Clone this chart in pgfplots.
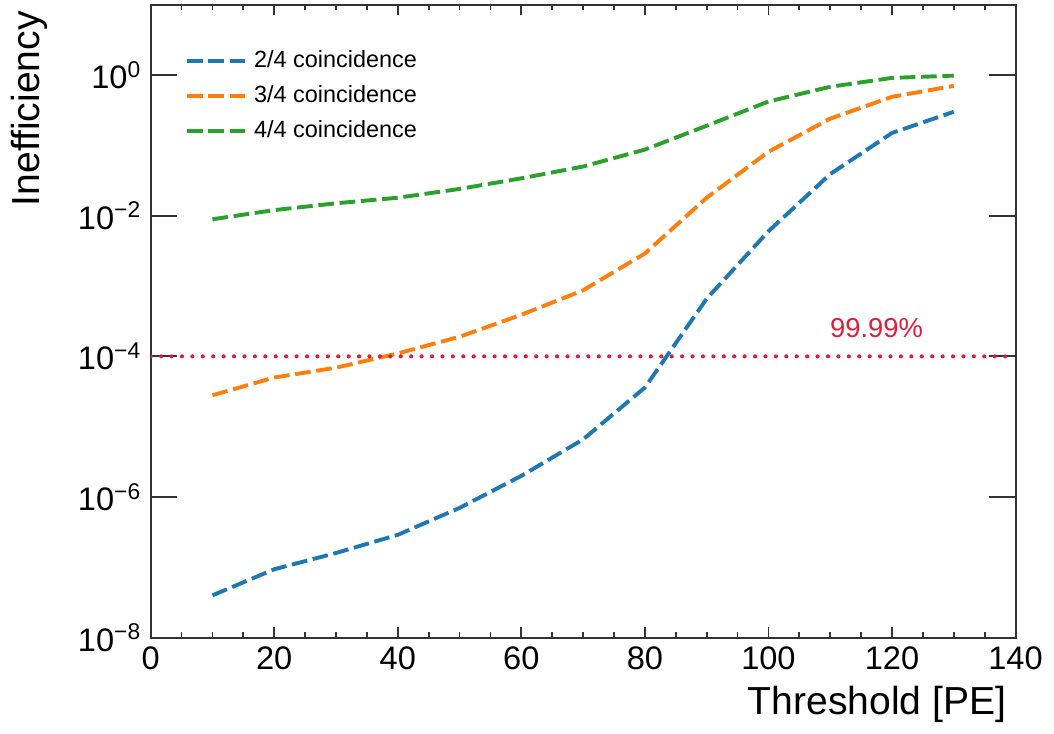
\documentclass[border=1pt]{standalone}
\usepackage{fontspec}
\setmainfont{Liberation Sans}
\usepackage{pgfplots}
\pgfplotsset{compat=1.18}
\definecolor{C0}{HTML}{1F77B4}
\definecolor{C1}{HTML}{FF7F0E}
\definecolor{C2}{HTML}{2CA02C}
\definecolor{Thr}{HTML}{DC1E3A}
\definecolor{Frame}{HTML}{333333}
\begin{document}
\begin{tikzpicture}
\begin{axis}[
  scale only axis, width=332pt, height=243pt,
  xmin=0, xmax=140, ymode=log, ymin=1e-8, ymax=10,
  xtick={0,20,...,140}, minor x tick num=3,
  ytick={1e-8,1e-6,1e-4,1e-2,1},
  yticklabels={10\textsuperscript{−8},10\textsuperscript{−6},10\textsuperscript{−4},10\textsuperscript{−2},10\textsuperscript{0}},
  yminorticks=false,
  tick align=inside,
  axis line style={Frame, line width=0.8pt},
  every tick/.style={Frame, line width=0.7pt},
  major tick length=4pt, minor tick length=2pt,
  ytick style={/pgfplots/major tick length=10pt},
  /pgf/number format/assume math mode=true,
  tick label style={font=\fontsize{12.5}{14}\selectfont},
  xlabel={Threshold [PE]}, ylabel={Inefficiency},
  label style={font=\fontsize{15}{18}\selectfont},
  xlabel style={at={(rel axis cs:1,0)}, anchor=north east, yshift=-15pt},
  ylabel style={at={(rel axis cs:0,1)}, anchor=south east, yshift=36pt, xshift=1pt},
  legend style={draw=none, fill=none, at={(0.03,0.945)}, anchor=north west,
    font=\fontsize{9}{11}\selectfont, row sep=1.5pt},
  legend cell align=left,
  legend image code/.code={\draw[#1] (0pt,0pt) -- (23pt,0pt);},
]
\addplot[C0, line width=1.5pt, dash pattern=on 6pt off 2.2pt] coordinates {
  (10,4.0e-8)(20,9.4e-8)(30,1.6e-7)(40,2.9e-7)(50,7.0e-7)(60,2.0e-6)(70,6.6e-6)
  (80,3.6e-5)(90,6.6e-4)(100,6.0e-3)(110,3.9e-2)(120,0.15)(130,0.30)};
\addlegendentry{2/4 coincidence}
\addplot[C1, line width=1.5pt, dash pattern=on 6pt off 2.2pt] coordinates {
  (10,2.8e-5)(20,5.0e-5)(30,6.9e-5)(40,1.1e-4)(50,1.9e-4)(60,3.9e-4)(70,8.7e-4)
  (80,2.9e-3)(90,1.8e-2)(100,8.1e-2)(110,0.24)(120,0.49)(130,0.70)};
\addlegendentry{3/4 coincidence}
\addplot[C2, line width=1.5pt, dash pattern=on 6pt off 2.2pt] coordinates {
  (10,8.9e-3)(20,1.2e-2)(30,1.5e-2)(40,1.8e-2)(50,2.4e-2)(60,3.4e-2)(70,5.0e-2)
  (80,8.7e-2)(90,0.19)(100,0.42)(110,0.68)(120,0.91)(130,0.98)};
\addlegendentry{4/4 coincidence}
\addplot[Thr, line width=1.6pt, line cap=round, dash pattern=on 0pt off 4pt, forget plot] coordinates {(0,1e-4)(140,1e-4)};
\node[text=Thr, font=\fontsize{10.5}{12}\selectfont] at (axis cs:117.5,2.5e-4) {99.99\%};
\end{axis}
\end{tikzpicture}
\end{document}
